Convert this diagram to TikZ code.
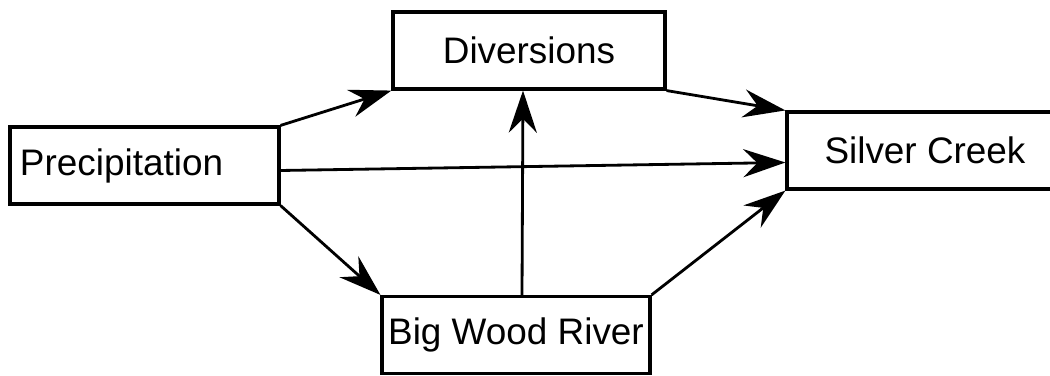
\documentclass[tikz,border=0pt]{standalone}
\usepackage{fontspec}
\setsansfont{Liberation Sans}
\usetikzlibrary{arrows.meta, positioning}

\begin{document}
\begin{tikzpicture}[
    every node/.style={font=\sffamily},
    store/.style={rectangle, draw=black, fill=white, line width=0.9pt,
                  minimum width=2.68cm, minimum height=0.77cm, inner sep=0pt,
                  font=\sffamily\fontsize{10.5}{12}\selectfont},
    arr/.style={-{Stealth[length=12pt, width=8pt, inset=4pt]}, line width=0.8pt},
]

\useasboundingbox (0,0) rectangle (10.50,-3.76);

% ================================================================ the boxes
\node[store, text width=2.49cm, inner xsep=0.10cm, align=left] (prec) at (1.445,-1.655)
     {Precipitation};
\node[store, minimum width=2.72cm] (div)    at (5.29,-0.505) {Diversions};
\node[store, minimum width=2.76cm] (silver) at (9.25,-1.505) {Silver Creek};
\node[store]                       (bwr)    at (5.16,-3.35)  {Big Wood River};

% ================================================================ the flows
\draw[arr] (prec.north east) -- (div.south west);
\draw[arr] ([yshift=-0.05cm]prec.east) -- ([yshift=-0.12cm]silver.west);
\draw[arr] (prec.south east) -- (bwr.north west);

\draw[arr] ([xshift=0.06cm]bwr.north) -- ([xshift=-0.06cm]div.south);

\draw[arr] (div.south east) -- (silver.north west);
\draw[arr] (bwr.north east) -- (silver.south west);

\end{tikzpicture}
\end{document}
